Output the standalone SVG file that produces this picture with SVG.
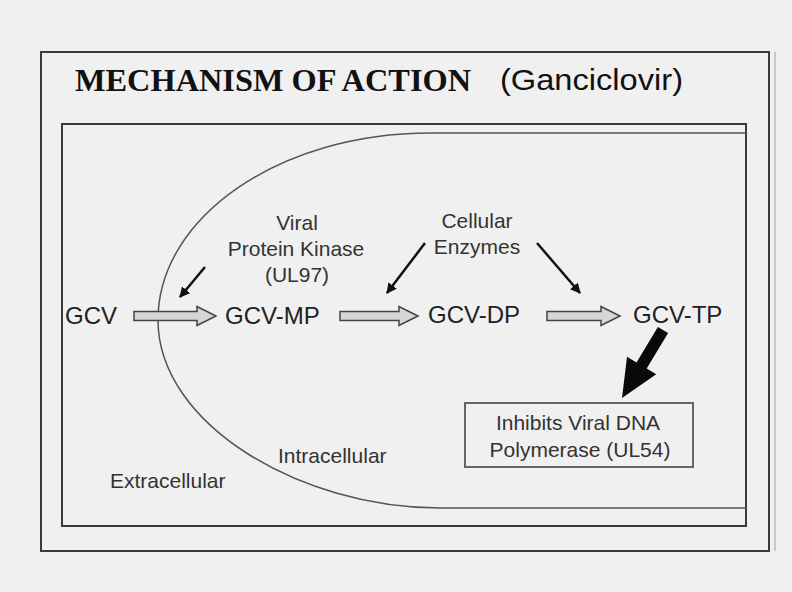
<svg xmlns="http://www.w3.org/2000/svg" width="792" height="592" viewBox="0 0 792 592">
<style>
.frame{fill:none;stroke:#3a3a3a;stroke-width:2}
.cell{fill:none;stroke:#555;stroke-width:1.5}
.node{font-family:"Liberation Sans",Arial,sans-serif;font-size:24px;fill:#222}
.lab{font-family:"Liberation Sans",Arial,sans-serif;font-size:21px;fill:#333;text-anchor:middle}
.reg{font-family:"Liberation Sans",Arial,sans-serif;font-size:21px;fill:#333}
.hollow{fill:#d6d6d6;stroke:#444;stroke-width:1.5;stroke-linejoin:miter}
.thin{stroke:#111;stroke-width:2.5;fill:none;marker-end:url(#ah)}
</style>
<defs>
<marker id="ah" viewBox="0 0 10 10" refX="9" refY="5" markerWidth="4.2" markerHeight="4.2" orient="auto" markerUnits="strokeWidth">
<path d="M0,0 L10,5 L0,10 z" fill="#111"/>
</marker>
</defs>
<rect x="0" y="0" width="792" height="592" fill="#f0f0f0"/>
<g id="frames">
<rect class="frame" x="41" y="52" width="728" height="499" stroke-width="2.5"/>
<line x1="775" y1="52" x2="775" y2="551" stroke="#bbb" stroke-width="1.5"/>
<rect class="frame" x="62" y="124" width="684" height="402" stroke="#4a4a4a"/>
</g>
<g id="cell">
<path class="cell" d="M746,133 L430,133 C280,133 158,217 158,320 C158,424 300,508 440,508 L746,508"/>
</g>
<g id="title">
<text x="75" y="91" font-family="'Liberation Serif','Times New Roman',serif" font-weight="bold" font-size="32" fill="#111" textLength="396" lengthAdjust="spacingAndGlyphs">MECHANISM OF ACTION</text>
<text x="500" y="90" font-family="'Liberation Sans',Arial,sans-serif" font-size="30" fill="#111" textLength="183" lengthAdjust="spacingAndGlyphs">(Ganciclovir)</text>
</g>
<g id="gcv"><text class="node" x="65" y="324">GCV</text></g>
<g id="gcv-mp"><text class="node" x="225" y="324">GCV-MP</text></g>
<g id="gcv-dp"><text class="node" x="428" y="323">GCV-DP</text></g>
<g id="gcv-tp"><text class="node" x="633" y="323">GCV-TP</text></g>
<g id="kinase">
<text class="lab" x="297" y="230">Viral</text>
<text class="lab" x="296" y="256">Protein Kinase</text>
<text class="lab" x="297" y="282">(UL97)</text>
</g>
<g id="enzymes">
<text class="lab" x="477" y="228">Cellular</text>
<text class="lab" x="477" y="254">Enzymes</text>
</g>
<g id="inhibits">
<rect x="465" y="403" width="228" height="64" fill="none" stroke="#666" stroke-width="2"/>
<text class="lab" x="578" y="430">Inhibits Viral DNA</text>
<text class="lab" x="580" y="457">Polymerase (UL54)</text>
</g>
<g id="extracellular"><text class="reg" x="110" y="488">Extracellular</text></g>
<g id="intracellular"><text class="reg" x="278" y="463">Intracellular</text></g>
<g id="connectors">
<path class="hollow" d="M134,311.5 H197 V306.5 L216,316 L197,325.5 V320.5 H134 Z"/>
<path class="hollow" d="M340,311.5 H399 V306.5 L418,316 L399,325.5 V320.5 H340 Z"/>
<path class="hollow" d="M547,311.5 H601 V306.5 L620,316 L601,325.5 V320.5 H547 Z"/>
<line class="thin" x1="205" y1="267" x2="180" y2="297"/>
<line class="thin" x1="425" y1="243" x2="387" y2="293"/>
<line class="thin" x1="537" y1="243" x2="580" y2="293"/>
<polygon points="657.9,326.9 668.1,333.1 646.7,368.6 656.2,374.3 622,398 627,356.7 636.5,362.4" fill="#0a0a0a"/>
</g>
</svg>
